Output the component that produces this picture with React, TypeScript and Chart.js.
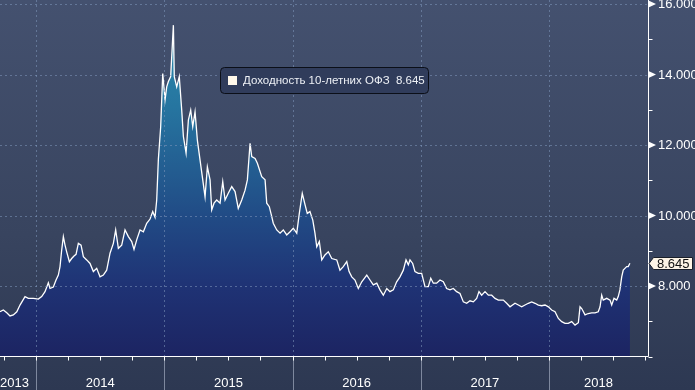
import React, { useEffect, useRef } from "react";
import { Chart, registerables } from "chart.js";

Chart.register(...registerables);

const dates: number[] = [
  2013.719, 2013.745, 2013.772, 2013.797, 2013.823, 2013.85, 2013.875, 2013.914, 2013.94, 2013.979,
  2014.018, 2014.044, 2014.07, 2014.096, 2014.109, 2014.135, 2014.156, 2014.174, 2014.187, 2014.2,
  2014.213, 2014.226, 2014.239, 2014.26, 2014.278, 2014.296, 2014.312, 2014.33, 2014.351, 2014.369,
  2014.395, 2014.421, 2014.447, 2014.473, 2014.499, 2014.525, 2014.551, 2014.577, 2014.603, 2014.621,
  2014.642, 2014.668, 2014.694, 2014.72, 2014.746, 2014.764, 2014.785, 2014.811, 2014.837, 2014.863,
  2014.889, 2014.91, 2014.928, 2014.941, 2014.954, 2014.972, 2014.988, 2015.006, 2015.019, 2015.032,
  2015.05, 2015.071, 2015.078, 2015.097, 2015.117, 2015.136, 2015.149, 2015.17, 2015.188, 2015.206,
  2015.222, 2015.24, 2015.258, 2015.279, 2015.3, 2015.318, 2015.336, 2015.357, 2015.37, 2015.388,
  2015.409, 2015.435, 2015.456, 2015.474, 2015.499, 2015.526, 2015.552, 2015.577, 2015.604, 2015.63,
  2015.648, 2015.669, 2015.682, 2015.708, 2015.726, 2015.76, 2015.786, 2015.799, 2015.819, 2015.838,
  2015.85, 2015.877, 2015.903, 2015.928, 2015.955, 2015.981, 2016.006, 2016.033, 2016.053, 2016.076,
  2016.098, 2016.115, 2016.136, 2016.158, 2016.175, 2016.189, 2016.209, 2016.228, 2016.253, 2016.279,
  2016.306, 2016.345, 2016.37, 2016.396, 2016.423, 2016.441, 2016.462, 2016.487, 2016.513, 2016.54,
  2016.579, 2016.604, 2016.63, 2016.657, 2016.682, 2016.708, 2016.735, 2016.76, 2016.786, 2016.812,
  2016.838, 2016.864, 2016.885, 2016.903, 2016.916, 2016.937, 2016.955, 2016.981, 2017.007, 2017.033,
  2017.059, 2017.078, 2017.098, 2017.124, 2017.15, 2017.176, 2017.202, 2017.228, 2017.254, 2017.28,
  2017.306, 2017.332, 2017.358, 2017.384, 2017.41, 2017.436, 2017.454, 2017.475, 2017.501, 2017.527,
  2017.553, 2017.579, 2017.605, 2017.644, 2017.67, 2017.696, 2017.735, 2017.761, 2017.787, 2017.813,
  2017.839, 2017.865, 2017.891, 2017.917, 2017.943, 2017.969, 2017.995, 2018.021, 2018.047, 2018.073,
  2018.099, 2018.125, 2018.15, 2018.177, 2018.203, 2018.229, 2018.242, 2018.255, 2018.281, 2018.306,
  2018.333, 2018.359, 2018.384, 2018.398, 2018.411, 2018.423, 2018.45, 2018.476, 2018.489, 2018.507,
  2018.528, 2018.54, 2018.553, 2018.567, 2018.579, 2018.592, 2018.606, 2018.618, 2018.631,
];

// 10-year OFZ yield, %
const yields: number[] = [
  7.27, 7.32, 7.24, 7.15, 7.18, 7.27, 7.46, 7.7, 7.65, 7.65,
  7.63, 7.7, 7.84, 8.09, 7.93, 7.97, 8.17, 8.31, 8.55, 9.02,
  9.4, 9.16, 8.97, 8.69, 8.78, 8.85, 8.9, 9.21, 9.16, 8.83,
  8.74, 8.64, 8.41, 8.5, 8.26, 8.31, 8.45, 8.93, 9.21, 9.59,
  9.07, 9.16, 9.59, 9.4, 9.26, 9.04, 9.31, 9.59, 9.54, 9.78,
  9.9, 10.11, 9.95, 10.44, 11.6, 12.52, 14.03, 13.28, 13.65, 13.8,
  13.94, 15.4, 13.94, 13.65, 13.94, 12.99, 12.24, 11.77, 12.71, 12.99,
  12.52, 12.94, 12.14, 11.57, 11.01, 10.53, 11.38, 11.01, 10.16, 10.35,
  10.44, 10.35, 10.96, 10.44, 10.63, 10.82, 10.68, 10.2, 10.44, 10.72,
  11.01, 12.05, 11.67, 11.62, 11.48, 11.1, 11.01, 10.35, 10.25, 9.97,
  9.78, 9.59, 9.5, 9.59, 9.45, 9.54, 9.64, 9.5, 10.06, 10.63,
  10.3, 10.06, 10.11, 9.87, 9.5, 9.11, 9.26, 8.74, 8.88, 8.97,
  8.78, 8.74, 8.45, 8.55, 8.69, 8.41, 8.26, 8.17, 7.93, 8.12,
  8.31, 8.17, 8.03, 8.08, 7.89, 7.74, 7.93, 7.84, 7.89, 8.12,
  8.26, 8.45, 8.74, 8.6, 8.74, 8.64, 8.41, 8.36, 8.36, 7.98,
  7.98, 8.22, 8.08, 8.08, 8.17, 8.12, 7.93, 7.89, 7.93, 7.84,
  7.79, 7.55, 7.51, 7.58, 7.55, 7.65, 7.84, 7.74, 7.84, 7.74,
  7.74, 7.65, 7.6, 7.6, 7.51, 7.41, 7.51, 7.46, 7.41, 7.46,
  7.51, 7.55, 7.51, 7.46, 7.44, 7.46, 7.41, 7.32, 7.27, 7.08,
  6.99, 6.94, 6.94, 6.99, 6.89, 6.96, 7.41, 7.36, 7.18, 7.22,
  7.24, 7.24, 7.27, 7.41, 7.74, 7.6, 7.65, 7.6, 7.46, 7.65,
  7.6, 7.7, 7.89, 8.26, 8.45, 8.5, 8.55, 8.55, 8.645,
];

const yearLabels: number[] = [2013, 2014, 2015, 2016, 2017, 2018];
const yMajorTicks: number[] = [8, 10, 12, 14, 16];
const yMinorTicks: number[] = [6, 7, 9, 11, 13, 15];
const seriesName = "Доходность 10-летних ОФЗ";
const lastValueText = "8.645";

const X_MIN = 2013.719;
const X_MAX = 2018.772;
const Y_MIN = 6.0145;
const Y_MAX = 16.1135;

const FONT = "'Liberation Sans', Arial, sans-serif";

const decorPlugin = {
  id: "decor",
  beforeDraw(chart: any) {
    const { ctx, width, height } = chart;
    ctx.save();
    const g = ctx.createLinearGradient(0, 0, 0, height);
    g.addColorStop(0, "#44516f");
    g.addColorStop(0.6, "#38445f");
    g.addColorStop(1, "#2d3852");
    ctx.fillStyle = g;
    ctx.fillRect(0, 0, width, height);
    ctx.restore();
  },
  afterDatasetsDraw(chart: any) {
    const { ctx, chartArea, height } = chart;
    const xs = chart.scales.x;
    const ys = chart.scales.y;
    const L = chartArea.left;
    const R = chartArea.right;
    const T = chartArea.top;
    const B = chartArea.bottom;
    const axisX = Math.round(R) + 0.5;
    const axisY = Math.round(B) + 0.5;

    ctx.save();
    // dashed grid
    ctx.strokeStyle = "rgba(128,152,188,0.55)";
    ctx.lineWidth = 1;
    ctx.setLineDash([2, 3]);
    yMajorTicks.forEach((v) => {
      const y = Math.round(ys.getPixelForValue(v)) + 0.5;
      ctx.beginPath();
      ctx.moveTo(L, y);
      ctx.lineTo(R, y);
      ctx.stroke();
    });
    yearLabels.forEach((yr) => {
      if (yr <= X_MIN) return;
      const x = Math.round(xs.getPixelForValue(yr)) + 0.5;
      ctx.beginPath();
      ctx.moveTo(x, T);
      ctx.lineTo(x, B);
      ctx.stroke();
    });
    ctx.setLineDash([]);

    // year separators in label band
    ctx.strokeStyle = "#7e889e";
    yearLabels.forEach((yr) => {
      if (yr <= X_MIN) return;
      const x = Math.round(xs.getPixelForValue(yr)) + 0.5;
      ctx.beginPath();
      ctx.moveTo(x, axisY);
      ctx.lineTo(x, height);
      ctx.stroke();
    });

    // axes lines
    ctx.strokeStyle = "#ffffff";
    ctx.beginPath();
    ctx.moveTo(L, axisY);
    ctx.lineTo(axisX, axisY);
    ctx.moveTo(axisX, T);
    ctx.lineTo(axisX, axisY);
    ctx.stroke();

    // quarter ticks on x axis
    ctx.beginPath();
    for (let yr = 2013; yr <= 2019; yr++) {
      for (let q = 0; q < 4; q++) {
        const v = yr + q * 0.25;
        if (v < X_MIN || v > X_MAX) continue;
        const x = Math.round(xs.getPixelForValue(v)) + 0.5;
        ctx.moveTo(x, axisY);
        ctx.lineTo(x, axisY + 4);
      }
    }
    ctx.stroke();

    // year labels
    ctx.fillStyle = "#ffffff";
    ctx.font = `13px ${FONT}`;
    ctx.textBaseline = "alphabetic";
    yearLabels.forEach((yr) => {
      const a = Math.max(xs.getPixelForValue(yr), L);
      const b = Math.min(xs.getPixelForValue(yr + 1), R);
      if (b - a < 10) return;
      const text = String(yr);
      if (xs.getPixelForValue(yr) < L) {
        ctx.textAlign = "left";
        ctx.fillText(text, L, 387);
      } else {
        ctx.textAlign = "center";
        ctx.fillText(text, (a + b) / 2, 387);
      }
    });

    // y axis ticks
    ctx.beginPath();
    yMinorTicks.forEach((v) => {
      const y = Math.round(ys.getPixelForValue(v)) + 0.5;
      ctx.moveTo(axisX, y);
      ctx.lineTo(axisX + 4, y);
    });
    ctx.stroke();
    ctx.textAlign = "left";
    ctx.textBaseline = "middle";
    yMajorTicks.forEach((v) => {
      const y = ys.getPixelForValue(v);
      ctx.beginPath();
      ctx.moveTo(axisX, y - 3.5);
      ctx.lineTo(axisX + 7.5, y);
      ctx.lineTo(axisX, y + 3.5);
      ctx.closePath();
      ctx.fill();
      ctx.fillText(v.toFixed(3), axisX + 9.5, y + 0.5);
    });

    // last value box
    const lastY = ys.getPixelForValue(yields[yields.length - 1]);
    const ly = Math.round(lastY) + 0.5;
    ctx.beginPath();
    ctx.moveTo(axisX + 0.5, ly);
    ctx.lineTo(axisX + 5, ly - 6);
    ctx.lineTo(axisX + 44, ly - 6);
    ctx.lineTo(axisX + 44, ly + 6);
    ctx.lineTo(axisX + 5, ly + 6);
    ctx.closePath();
    ctx.fillStyle = "#fdf4e6";
    ctx.fill();
    ctx.strokeStyle = "#1a1f2a";
    ctx.stroke();
    ctx.fillStyle = "#111111";
    ctx.fillText(lastValueText, axisX + 8.5, ly + 0.5);

    // legend box
    ctx.beginPath();
    (ctx as any).roundRect(220.5, 67.5, 208, 26, 4);
    ctx.fillStyle = "#303c5b";
    ctx.fill();
    ctx.strokeStyle = "#0b0f18";
    ctx.stroke();
    ctx.fillStyle = "#fff8ea";
    ctx.fillRect(228, 76, 9, 9);
    ctx.fillStyle = "#eef1f6";
    ctx.font = `11.5px ${FONT}`;
    ctx.textAlign = "left";
    ctx.textBaseline = "middle";
    ctx.fillText(`${seriesName}  ${lastValueText}`, 243, 81);
    ctx.restore();
  },
};

export default function App() {
  const canvasRef = useRef<HTMLCanvasElement | null>(null);

  useEffect(() => {
    const canvas = canvasRef.current;
    if (!canvas) return;
    const chart = new Chart(canvas, {
      type: "line",
      data: {
        datasets: [
          {
            label: seriesName,
            data: dates.map((d, i) => ({ x: d, y: yields[i] })),
            borderColor: "#ffffff",
            borderWidth: 1.3,
            pointRadius: 0,
            tension: 0,
            fill: "start",
            backgroundColor: (c: any) => {
              const ch = c.chart;
              const area = ch.chartArea;
              if (!area) return "#22407a";
              const g = ch.ctx.createLinearGradient(0, area.top, 0, area.bottom);
              g.addColorStop(0, "#2c93b2");
              g.addColorStop(0.3, "#2675a0");
              g.addColorStop(0.6, "#214c86");
              g.addColorStop(0.8, "#1f3375");
              g.addColorStop(1, "#1c2462");
              return g;
            },
          },
        ],
      },
      options: {
        animation: false,
        responsive: false,
        maintainAspectRatio: false,
        devicePixelRatio: 1,
        layout: { padding: { left: 0, top: 0, right: 47, bottom: 34 } },
        scales: {
          x: { type: "linear", min: X_MIN, max: X_MAX, display: false },
          y: { type: "linear", min: Y_MIN, max: Y_MAX, display: false },
        },
        plugins: {
          legend: { display: false },
          tooltip: { enabled: false },
        },
      },
      plugins: [decorPlugin],
    } as any);
    return () => chart.destroy();
  }, []);

  return (
    <div style={{ position: "fixed", left: 0, top: 0, width: 695, height: 390 }}>
      <canvas ref={canvasRef} width={695} height={390} style={{ display: "block", width: 695, height: 390 }} />
    </div>
  );
}
